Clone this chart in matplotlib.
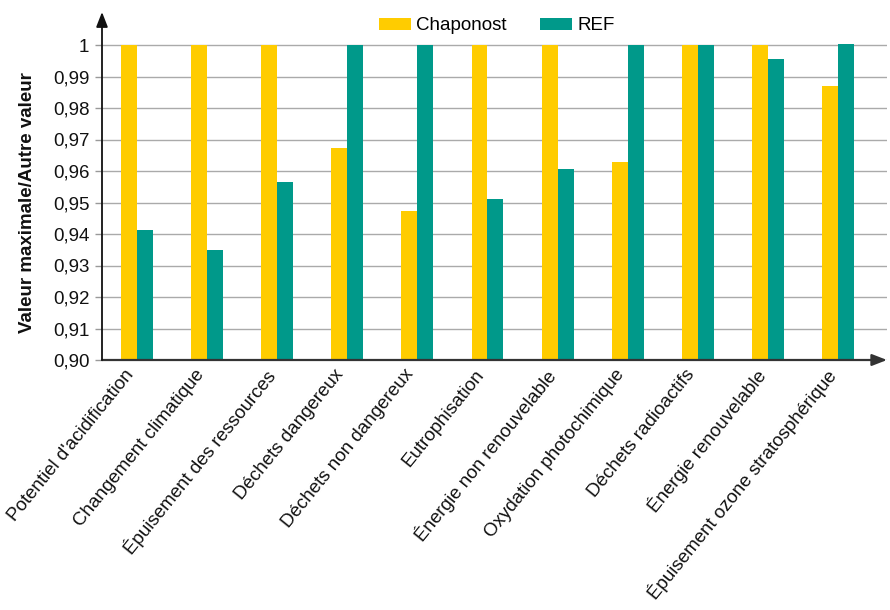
import numpy as np
import matplotlib
matplotlib.use("Agg")
import matplotlib.pyplot as plt
import matplotlib.transforms as mtransforms

plt.rcParams['font.family'] = ['Liberation Sans', 'DejaVu Sans']

categories = ["Potentiel d'acidification", "Changement climatique", "Épuisement des ressources",
              "Déchets dangereux", "Déchets non dangereux", "Eutrophisation",
              "Énergie non renouvelable", "Oxydation photochimique", "Déchets radioactifs",
              "Énergie renouvelable", "Épuisement ozone stratosphérique"]
chaponost = [1.0, 1.0, 1.0, 0.9673, 0.9473, 1.0, 1.0, 0.9629, 1.0, 1.0, 0.9870]
ref = [0.9413, 0.9349, 0.9565, 1.0, 1.0, 0.9511, 0.9606, 1.0, 1.0, 0.9956, 1.0003]
yticks = [0.90, 0.91, 0.92, 0.93, 0.94, 0.95, 0.96, 0.97, 0.98, 0.99, 1.00]
ytick_labels = ["0,90", "0,91", "0,92", "0,93", "0,94", "0,95", "0,96", "0,97", "0,98", "0,99", "1"]

W, H = 890, 610
fig = plt.figure(figsize=(W / 100, H / 100), dpi=100)
ax = fig.add_axes([102 / W, 1 - 360 / H, (887 - 102) / W, (360 - 12) / H])

x = np.arange(len(categories))
bw = 0.228
ax.bar(x - bw / 2, chaponost, bw, color='#FFCC00', label='Chaponost', zorder=3)
ax.bar(x + bw / 2, ref, bw, color='#00998A', label='REF', zorder=3)

ax.set_xlim(-0.5, 10.7)
ax.set_ylim(0.9, 0.9 + 348 / 3150)
ax.set_yticks(yticks)
ax.set_yticklabels(ytick_labels, fontsize=13.5, color='#111111')
ax.set_xticks([])

# category labels, placed by hand so they can be nudged left
trans = ax.get_xaxis_transform() + mtransforms.ScaledTranslation(-0.13, -0.06, fig.dpi_scale_trans)
for i, name in enumerate(categories):
    ax.text(x[i], 0, name, transform=trans, rotation=51, ha='right', va='top',
            rotation_mode='anchor', fontsize=13.5, color='#111111')

ax.tick_params(axis='y', length=5, width=1, color='#999999', pad=4)
ax.yaxis.grid(True, color='#aaaaaa', lw=1, zorder=0)

for s in ax.spines.values():
    s.set_visible(False)

# axes with arrows
ax.annotate('', xy=(1, 0), xytext=(0, 0), xycoords='axes fraction',
            arrowprops=dict(arrowstyle='-|>,head_length=0.9,head_width=0.35',
                            color='#333333', lw=1.6, shrinkA=0, shrinkB=0), zorder=5)
ax.annotate('', xy=(0, 1), xytext=(0, 0), xycoords='axes fraction',
            arrowprops=dict(arrowstyle='-|>,head_length=0.9,head_width=0.35',
                            color='#111111', lw=1.3, shrinkA=0, shrinkB=0), zorder=5)

fig.legend(loc='center', bbox_to_anchor=(497 / W, 1 - 26 / H), ncol=2, frameon=False,
           fontsize=13.5, handlelength=1.7, handleheight=0.67, handletextpad=0.3,
           columnspacing=1.8)

fig.text(28 / W, 1 - 203 / H, "Valeur maximale/Autre valeur", rotation=90,
         ha='center', va='center', fontsize=13.5, fontweight='bold', color='#111111')

fig.savefig('out.png', dpi=100)
